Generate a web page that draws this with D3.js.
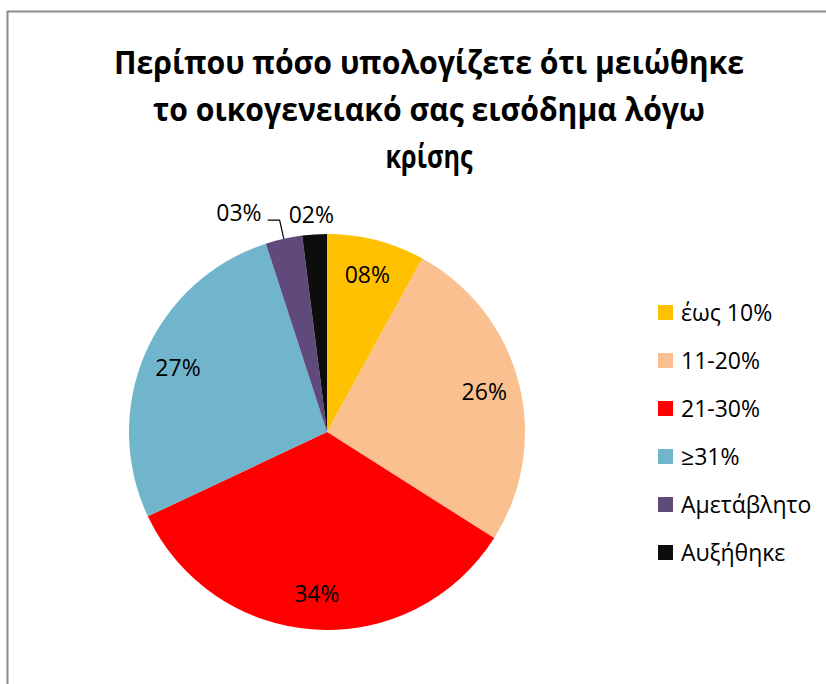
<!DOCTYPE html>
<html>
<head>
<meta charset="utf-8">
<script src="https://cdn.jsdelivr.net/npm/d3@7/dist/d3.min.js"></script>
<style>
  html, body { margin: 0; padding: 0; background: #ffffff; }
  svg { display: block; }
</style>
</head>
<body>
<svg id="chart" width="826" height="684"></svg>
<script>
// ---- data ----
const titleLines = ["Περίπου πόσο υπολογίζετε ότι μειώθηκε", "το οικογενειακό σας εισόδημα λόγω", "κρίσης"];
const categories = ["έως 10%", "11-20%", "21-30%", "≥31%", "Αμετάβλητο", "Αυξήθηκε"];
const values = [8, 26, 34, 27, 3, 2];
const colors = ["#FFC000", "#FAC090", "#FF0000", "#70B5CB", "#604A7B", "#0D0D0D"];
const valueLabels = ["08%", "26%", "34%", "27%", "03%", "02%"];

// ---- layout ----
const W = 826, H = 684;
const cx = 327, cy = 432, R = 198;
const fontFamily = "'Open Sans', 'Noto Sans', 'DejaVu Sans', sans-serif";

const svg = d3.select("#chart");

// frame (extends beyond the visible window, as in the reference)
svg.append("rect")
  .attr("x", 7.5).attr("y", 11.5)
  .attr("width", W + 20).attr("height", H + 20)
  .attr("fill", "#ffffff")
  .attr("stroke", "#8c8c8c")
  .attr("stroke-width", 2);

// title
const titleWidths = [630, 552, 87];
const title = svg.append("g");
titleLines.forEach((t, i) => {
  title.append("text")
    .attr("x", 429)
    .attr("y", 74 + i * 47)
    .attr("text-anchor", "middle")
    .attr("font-family", fontFamily)
    .attr("font-weight", "bold")
    .attr("font-size", 32)
    .attr("fill", "#000")
    .attr("textLength", titleWidths[i])
    .attr("lengthAdjust", "spacingAndGlyphs")
    .text(t);
});

// pie
const pie = d3.pie().sort(null).value(d => d)
  .startAngle(0).endAngle(2 * Math.PI);
const arcs = pie(values);
const arc = d3.arc().innerRadius(0).outerRadius(R);
const labelArc = d3.arc().innerRadius(R * 0.82).outerRadius(R * 0.82);

const g = svg.append("g").attr("transform", `translate(${cx},${cy})`);
g.selectAll("path.slice")
  .data(arcs)
  .join("path")
  .attr("class", "slice")
  .attr("d", arc)
  .attr("fill", (d, i) => colors[i]);

const labelSize = 23;

// inside labels (large slices)
const insideIdx = [0, 1, 2, 3];
insideIdx.forEach(i => {
  const [x, y] = labelArc.centroid(arcs[i]);
  g.append("text")
    .attr("x", x).attr("y", y)
    .attr("dy", "0.35em")
    .attr("text-anchor", "middle")
    .attr("font-family", fontFamily)
    .attr("font-size", labelSize)
    .attr("fill", "#000")
    .text(valueLabels[i]);
});

// outside labels for the small slices
function polar(angle, r) { return [r * Math.sin(angle), -r * Math.cos(angle)]; }

// Αμετάβλητο (03%) with leader line
{
  const a = arcs[4];
  const mid = (a.startAngle + a.endAngle) / 2;
  const p0 = polar(mid, R);
  const p1 = polar(mid, R * 1.097);
  const p2 = [p1[0] - 12, p1[1]];
  g.append("polyline")
    .attr("points", [p0, p1, p2].map(p => p.join(",")).join(" "))
    .attr("fill", "none")
    .attr("stroke", "#000")
    .attr("stroke-width", 1.2);
  g.append("text")
    .attr("x", p2[0] - 6).attr("y", p2[1] - 7)
    .attr("dy", "0.35em")
    .attr("text-anchor", "end")
    .attr("font-family", fontFamily)
    .attr("font-size", labelSize)
    .attr("fill", "#000")
    .text(valueLabels[4]);
}
// Αυξήθηκε (02%)
{
  const a = arcs[5];
  const mid = (a.startAngle + a.endAngle) / 2;
  const p = polar(mid, R * 1.1);
  g.append("text")
    .attr("x", p[0] - 2).attr("y", p[1])
    .attr("dy", "0.35em")
    .attr("text-anchor", "middle")
    .attr("font-family", fontFamily)
    .attr("font-size", labelSize)
    .attr("fill", "#000")
    .text(valueLabels[5]);
}

// legend
const legendY = d3.scalePoint().domain(categories).range([312.5, 552.5]);
const legend = svg.append("g");
const items = legend.selectAll("g.item")
  .data(categories)
  .join("g")
  .attr("class", "item")
  .attr("transform", d => `translate(658,${legendY(d)})`);
items.append("rect")
  .attr("x", 0).attr("y", -7.5)
  .attr("width", 15).attr("height", 15)
  .attr("fill", (d, i) => colors[i]);
items.append("text")
  .attr("x", 23).attr("y", 0)
  .attr("dy", "0.35em")
  .attr("font-family", fontFamily)
  .attr("font-size", 23)
  .attr("fill", "#000")
  .text(d => d);
</script>
</body>
</html>
